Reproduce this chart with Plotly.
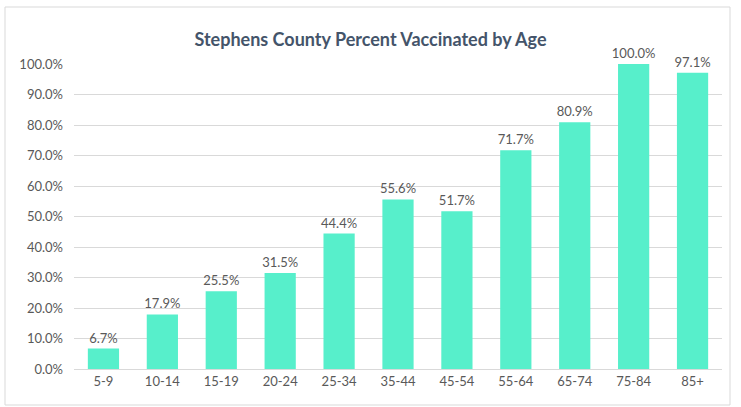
import plotly.graph_objects as go

ages = ["5-9", "10-14", "15-19", "20-24", "25-34", "35-44", "45-54", "55-64", "65-74", "75-84", "85+"]
pct_vaccinated = [6.7, 17.9, 25.5, 31.5, 44.4, 55.6, 51.7, 71.7, 80.9, 100.0, 97.1]

W, H = 741, 407
L, R, T, B = 74, 19, 64, 38
pw, ph = W - L - R, H - T - B

fig = go.Figure()
fig.add_trace(go.Bar(
    x=ages, y=pct_vaccinated,
    marker=dict(color="#57EFCB", line=dict(width=0)),
    texttemplate="%{y:.1f}%", textposition="outside", constraintext="none",
    textfont=dict(color="#595959", size=13),
    cliponaxis=False,
))

# outer chart border
fig.add_shape(type="rect", xref="paper", yref="paper",
              x0=(5 - L) / pw, x1=(730 - L) / pw,
              y0=-(405 - (T + ph)) / ph, y1=((T + ph) - 7) / ph,
              line=dict(color="#D9D9D9", width=1), layer="below")

fig.update_layout(
    width=W, height=H,
    margin=dict(l=L, r=R, t=T, b=B),
    paper_bgcolor="white", plot_bgcolor="white",
    font=dict(family="Lato, Open Sans, sans-serif", color="#595959", size=13),
    title=dict(text="<b>Stephens County Percent Vaccinated by Age</b>",
               x=0.5, xanchor="center", y=1 - 40 / H, yanchor="middle",
               font=dict(size=18, color="#44546A")),
    bargap=0.47,
    showlegend=False,
)
fig.update_xaxes(showline=True, linecolor="#D9D9D9", linewidth=1, ticks="",
                 tickfont=dict(size=13, color="#595959"))
fig.update_yaxes(range=[0, 100], dtick=10, tickformat=".1f", ticksuffix="%",
                 showgrid=True, gridcolor="#D9D9D9", zeroline=False,
                 tickfont=dict(size=13, color="#595959"), ticklabelstandoff=10)

fig.write_html("out.html", config={"displayModeBar": False},
               post_script="document.body.style.margin='0';")
